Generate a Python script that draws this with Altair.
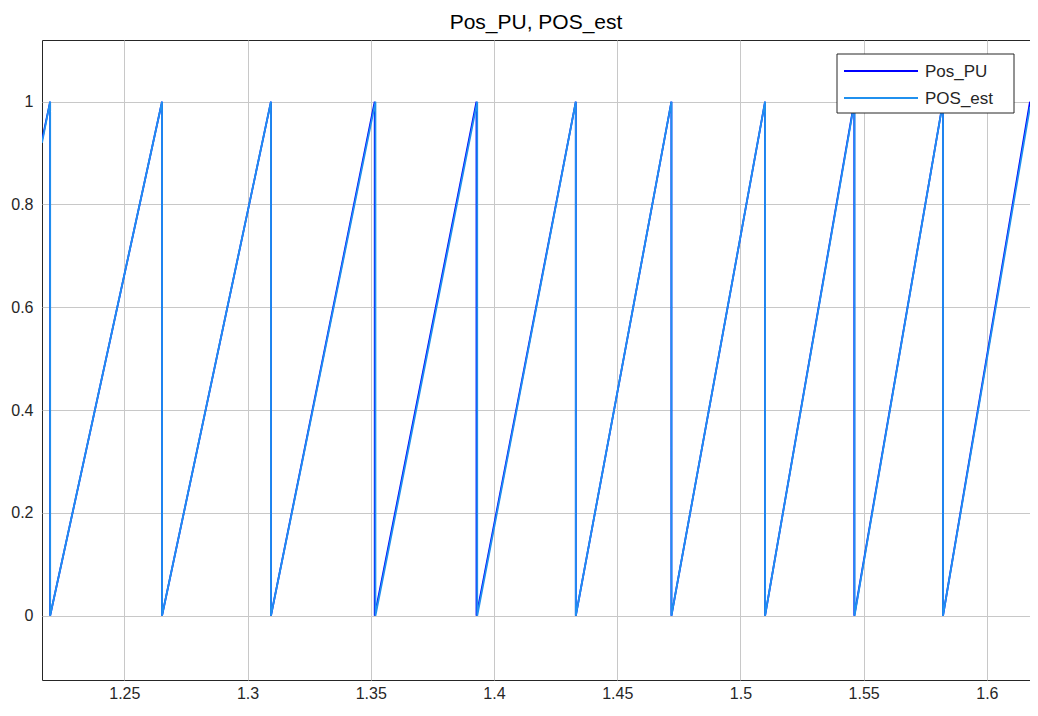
import altair as alt
import pandas as pd

# Sawtooth vertices (time, per-unit position)
pu_t = [1.2166, 1.2199, 1.2199, 1.2653, 1.2653, 1.3095, 1.3095, 1.3516, 1.3516,
        1.3929, 1.3929, 1.4332, 1.4332, 1.4720, 1.4720, 1.5100, 1.5100,
        1.5462, 1.5462, 1.5822, 1.5822, 1.6175]
pu_v = [0.925, 1.0, 0.0, 1.0, 0.0, 1.0, 0.0, 1.0, 0.0,
        1.0, 0.0, 1.0, 0.0, 1.0, 0.0, 1.0, 0.0,
        1.0, 0.0, 1.0, 0.0, 1.0]

est_t = [1.2166, 1.2199, 1.2199, 1.2653, 1.2653, 1.3095, 1.3095, 1.3519, 1.3519,
         1.3932, 1.3932, 1.4332, 1.4332, 1.4720, 1.4720, 1.5100, 1.5100,
         1.5463, 1.5463, 1.5822, 1.5822, 1.6175]
est_v = [0.92, 1.0, 0.0, 1.0, 0.0, 1.0, 0.0, 1.0, 0.0,
         1.0, 0.0, 1.0, 0.0, 1.0, 0.0, 1.0, 0.0,
         1.0, 0.0, 1.0, 0.0, 0.99]

x_ticks = [1.25, 1.3, 1.35, 1.4, 1.45, 1.5, 1.55, 1.6]
y_ticks = [0, 0.2, 0.4, 0.6, 0.8, 1]
series_names = ["Pos_PU", "POS_est"]
series_colors = ["#0000ff", "#2090ee"]

pu_df = pd.DataFrame({"t": pu_t, "v": pu_v, "i": list(range(len(pu_t))), "s": "Pos_PU"})
est_df = pd.DataFrame({"t": est_t, "v": est_v, "i": list(range(len(est_t))), "s": "POS_est"})

FONT = "Liberation Sans"
W, H = 988, 640

xscale = alt.Scale(domain=[1.2166, 1.6175], nice=False, zero=False)
yscale = alt.Scale(domain=[-0.125, 1.12], nice=False, zero=False)

xaxis = alt.Axis(values=x_ticks, grid=True, tickSize=0, labelPadding=5, format="~g",
                 labelFontSize=16, labelFont=FONT, labelColor="#262626",
                 domain=False, labelFlush=False)
yaxis = alt.Axis(values=y_ticks, grid=True, tickSize=0, labelPadding=9, format="~g",
                 labelFontSize=16, labelFont=FONT, labelColor="#262626",
                 domain=False)


def series_layer(d, color, width):
    return alt.Chart(d).mark_line(strokeWidth=width, clip=True, color=color).encode(
        x=alt.X("t:Q", scale=xscale, title=None, axis=xaxis),
        y=alt.Y("v:Q", scale=yscale, title=None, axis=yaxis),
        order=alt.Order("i:Q"),
    )


pu_layer = series_layer(pu_df, series_colors[0], 1.8)
est_layer = series_layer(est_df, series_colors[1], 1.8)

# Manual legend box (MATLAB-style)
leg_box = alt.Chart(pd.DataFrame({"a": [0]})).mark_rect(
    fill="white", stroke="#262626", strokeWidth=1
).encode(x=alt.value(795), x2=alt.value(972), y=alt.value(14), y2=alt.value(73))

leg_line1 = alt.Chart(pd.DataFrame({"s": ["Pos_PU"]})).mark_rule(strokeWidth=2, color=series_colors[0]).encode(
    x=alt.value(802), x2=alt.value(876), y=alt.value(31))
leg_line2 = alt.Chart(pd.DataFrame({"s": ["POS_est"]})).mark_rule(strokeWidth=2, color=series_colors[1]).encode(
    x=alt.value(802), x2=alt.value(876), y=alt.value(58))
leg_text1 = alt.Chart(pd.DataFrame({"s": ["Pos_PU"]})).mark_text(
    align="left", baseline="middle", fontSize=17, font=FONT, color="#262626"
).encode(x=alt.value(883), y=alt.value(32), text="s:N")
leg_text2 = alt.Chart(pd.DataFrame({"s": ["POS_est"]})).mark_text(
    align="left", baseline="middle", fontSize=17, font=FONT, color="#262626"
).encode(x=alt.value(883), y=alt.value(59), text="s:N")

chart = alt.layer(pu_layer, est_layer, leg_box, leg_line1, leg_line2, leg_text1, leg_text2).properties(
    width=W, height=H,
    title=alt.TitleParams("Pos_PU, POS_est", fontSize=21, font=FONT, fontWeight="normal",
                          color="#000000", offset=7, anchor="middle"),
    autosize=alt.AutoSizeParams(type="none"),
    padding={"left": 34, "top": 32, "right": 0, "bottom": 24},
).configure_view(
    stroke="#262626", strokeWidth=1
).configure_axis(
    gridColor="#c8c8c8", gridWidth=1, gridOpacity=1
)

chart.save("out.html", embed_options={"renderer": "svg", "actions": False})
